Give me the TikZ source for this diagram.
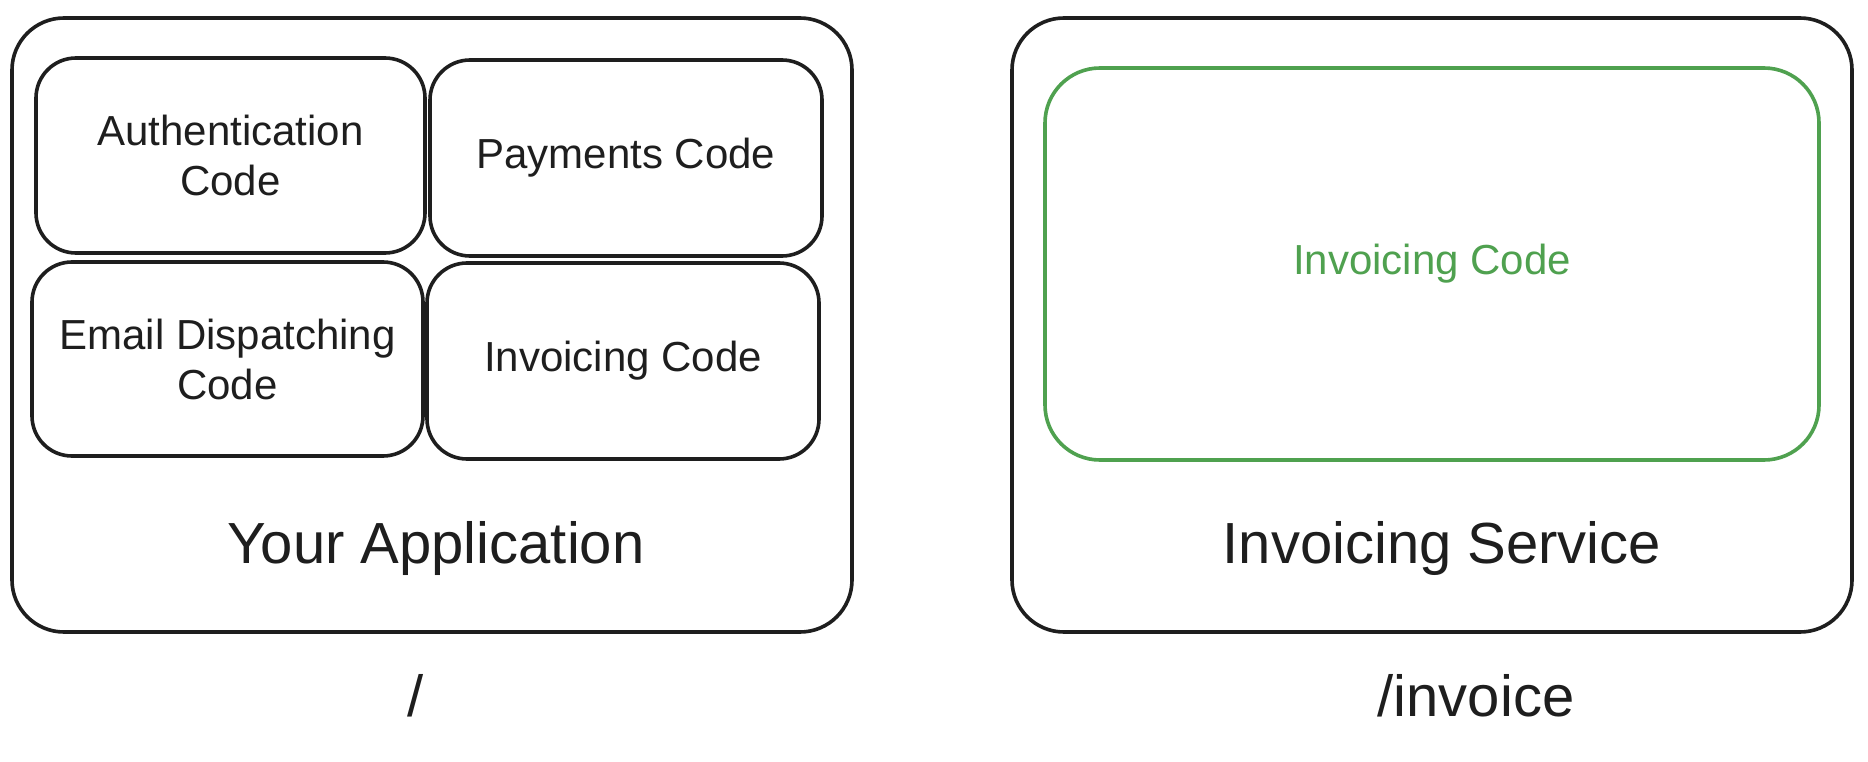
\documentclass[tikz,border=0pt]{standalone}
\usepackage{fontspec}
\setmainfont{Liberation Sans}
\definecolor{ink}{HTML}{1E1E1E}
\definecolor{leaf}{HTML}{4FA14F}
\begin{document}
\begin{tikzpicture}[x=1pt,y=-1pt,
  outerbox/.style={draw=ink, line width=3.6pt, rounded corners=52pt, inner sep=0pt},
  codebox/.style={draw=ink, line width=3.6pt, rounded corners=40pt, inner sep=0pt,
    align=center, text=ink, font=\fontsize{42}{50}\selectfont},
  greenbox/.style={draw=leaf, line width=3.6pt, rounded corners=55pt, inner sep=0pt,
    align=center, text=leaf, font=\fontsize{42}{50}\selectfont},
  biglabel/.style={text=ink, inner sep=0pt, anchor=base, font=\fontsize{58}{64}\selectfont}]
\useasboundingbox (0,0) rectangle (1868,762);
\fill[white] (0,0) rectangle (1868,762);
% left application
\node[outerbox, minimum width=840pt, minimum height=614pt] (app) at (432,325) {};
\node[codebox, minimum width=389pt, minimum height=195pt] (auth) at (230.5,155.5) {Authentication\\Code};
\node[codebox, minimum width=392pt, minimum height=196pt] (pay) at (626,158) {\raisebox{-4pt}{Payments Code}};
\node[codebox, minimum width=391pt, minimum height=194pt] (mail) at (227.5,359) {Email Dispatching\\Code};
\node[codebox, minimum width=392pt, minimum height=196pt] (invl) at (623,361) {Invoicing Code};
\node[biglabel] (applabel) at (436,563) {Your Application};
\node[biglabel] (root) at (416,716) {/};
% right invoicing service
\node[outerbox, minimum width=840pt, minimum height=614pt] (svc) at (1432,325) {};
\node[greenbox, minimum width=774pt, minimum height=392pt] (invr) at (1432,264) {Invoicing Code};
\node[biglabel] (svclabel) at (1442,563) {Invoicing Service};
\node[biglabel] (route) at (1476,716) {/invoice};
\end{tikzpicture}
\end{document}
